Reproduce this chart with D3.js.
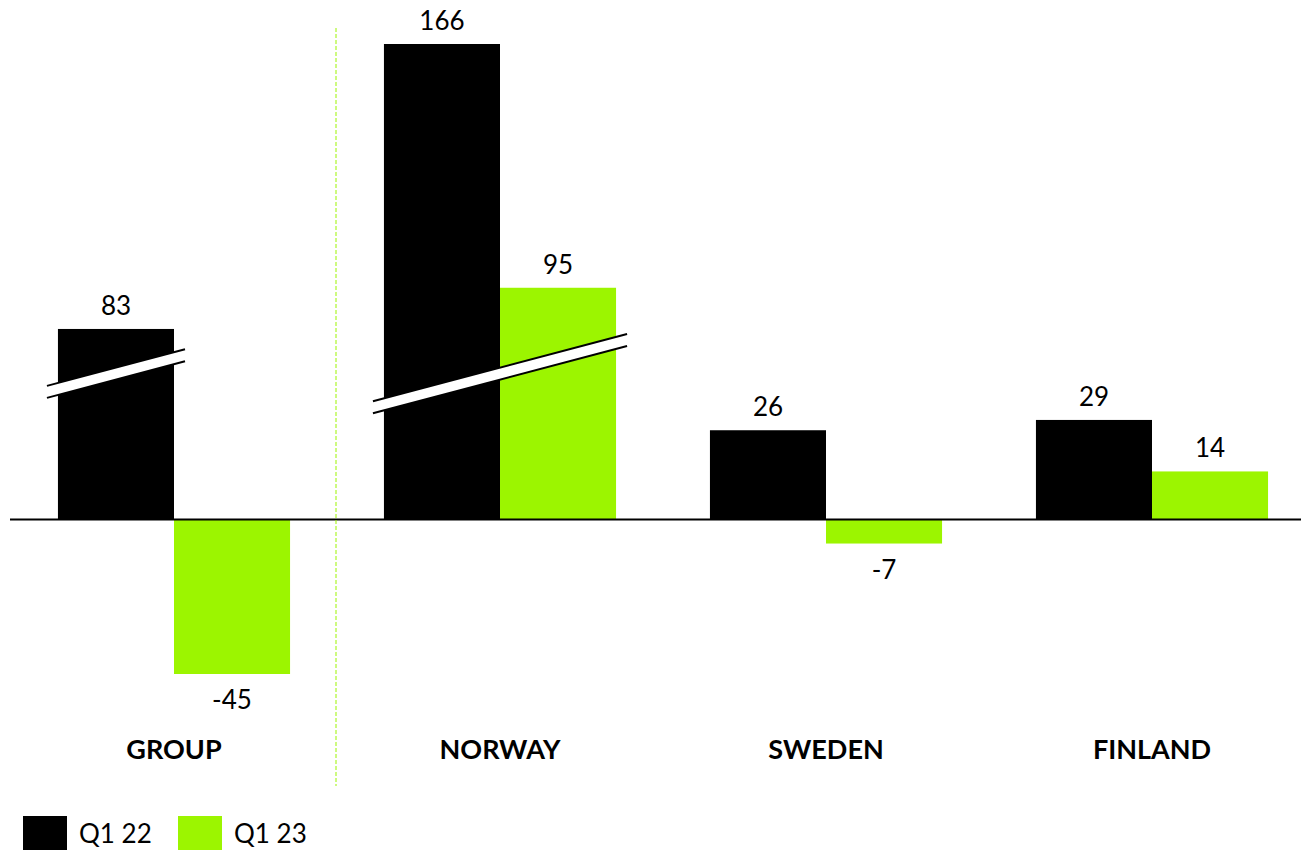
<!DOCTYPE html>
<html>
<head>
<meta charset="utf-8">
<script src="https://cdn.jsdelivr.net/npm/d3@7/dist/d3.min.js"></script>
<style>
  html, body { margin: 0; padding: 0; background: #fff; }
  svg { display: block; font-family: Lato, "Open Sans", sans-serif; }
</style>
</head>
<body>
<svg id="chart" width="1301" height="850"></svg>
<script>
// Result per market, quarter on quarter
const categories = ["GROUP", "NORWAY", "SWEDEN", "FINLAND"];
const seriesNames = ["Q1 22", "Q1 23"];
const q122 = [83, 166, 26, 29];
const q123 = [-45, 95, -7, 14];
const seriesColors = ["#000000", "#9cf500"];

// Value axis is cut between these two values (broken bars)
const breakFrom = 42.5;
const breakTo = 70;

const svg = d3.select("#chart");
const W = 1301, H = 850;
const plot = { left: 11, right: 1315, top: 44, bottom: 674 };

const series = seriesNames.map((name, i) => ({
  name, color: seriesColors[i], values: i === 0 ? q122 : q123
}));
const allVals = q122.concat(q123);
const gap = breakTo - breakFrom;
const vMin = d3.min(allVals), vMax = d3.max(allVals);

// Piecewise scale: the span breakFrom..breakTo collapses to one pixel row
const y = d3.scaleLinear()
  .domain([vMin, 0, breakFrom, breakTo, vMax])
  .range([0, 1, 2, 3, 4].map(() => 0));
const yBase = d3.scaleLinear()
  .domain([vMin, vMax - gap])
  .range([plot.bottom, plot.top]);
y.range([yBase(vMin), yBase(0), yBase(breakFrom), yBase(breakFrom), yBase(vMax - gap)]);

const x0 = d3.scaleBand().domain(categories).range([plot.left, plot.right]).padding(0);
const groupW = x0.bandwidth() * 0.712;
const x1 = d3.scaleBand().domain(seriesNames).range([0, groupW]).padding(0);
const groupX = c => x0(c) + (x0.bandwidth() - groupW) / 2;

// Bars
const g = svg.append("g");
categories.forEach((c, ci) => {
  series.forEach(s => {
    const v = s.values[ci];
    g.append("rect")
      .attr("x", groupX(c) + x1(s.name))
      .attr("y", Math.min(y(v), y(0)))
      .attr("width", x1.bandwidth())
      .attr("height", Math.abs(y(v) - y(0)))
      .attr("fill", s.color);
  });
});

// Zero line
svg.append("line")
  .attr("x1", 10).attr("x2", W)
  .attr("y1", y(0)).attr("y2", y(0))
  .attr("stroke", "#000").attr("stroke-width", 2);

// Break marks across bars that pass the cut
const slope = -0.265, half = 6, overhang = 11;
categories.forEach((c, ci) => {
  const broken = series.filter(s => s.values[ci] > breakTo);
  if (!broken.length) return;
  const xs = broken.map(s => groupX(c) + x1(s.name));
  const xa = d3.min(xs) - overhang;
  const xb = d3.max(xs) + x1.bandwidth() + overhang;
  const xm = (xa + xb) / 2, ym = y(breakFrom);
  const yAt = xx => ym + slope * (xx - xm);
  svg.append("polygon")
    .attr("points", [
      [xa, yAt(xa) - half], [xb, yAt(xb) - half],
      [xb, yAt(xb) + half], [xa, yAt(xa) + half]
    ].map(p => p.join(",")).join(" "))
    .attr("fill", "#fff");
  [-half, half].forEach(off => {
    svg.append("line")
      .attr("x1", xa).attr("y1", yAt(xa) + off)
      .attr("x2", xb).attr("y2", yAt(xb) + off)
      .attr("stroke", "#000").attr("stroke-width", 2);
  });
});

// Value labels
categories.forEach((c, ci) => {
  series.forEach(s => {
    const v = s.values[ci];
    svg.append("text")
      .attr("x", groupX(c) + x1(s.name) + x1.bandwidth() / 2)
      .attr("y", v >= 0 ? y(v) - 14 : y(v) + 35)
      .attr("text-anchor", "middle")
      .attr("font-size", 26)
      .attr("fill", "#000")
      .text(v);
  });
});

// Separator between group total and markets
svg.append("line")
  .attr("x1", x0(categories[1]) - 1).attr("x2", x0(categories[1]) - 1)
  .attr("y1", 28).attr("y2", 786)
  .attr("stroke", "#9cf500").attr("stroke-width", 1)
  .attr("stroke-dasharray", "4,2");

// Category labels
svg.append("g").selectAll("text")
  .data(categories).join("text")
  .attr("x", c => x0(c) + x0.bandwidth() / 2)
  .attr("y", 759)
  .attr("text-anchor", "middle")
  .attr("font-size", 27)
  .attr("font-weight", "bold")
  .attr("fill", "#000")
  .text(c => c);

// Legend
const legend = svg.append("g");
const legendX = [23, 178];
series.forEach((s, i) => {
  legend.append("rect")
    .attr("x", legendX[i]).attr("y", 816)
    .attr("width", 44).attr("height", 34)
    .attr("fill", s.color);
  legend.append("text")
    .attr("x", legendX[i] + 56).attr("y", 843)
    .attr("font-size", 26)
    .attr("fill", "#000")
    .text(s.name);
});
</script>
</body>
</html>
